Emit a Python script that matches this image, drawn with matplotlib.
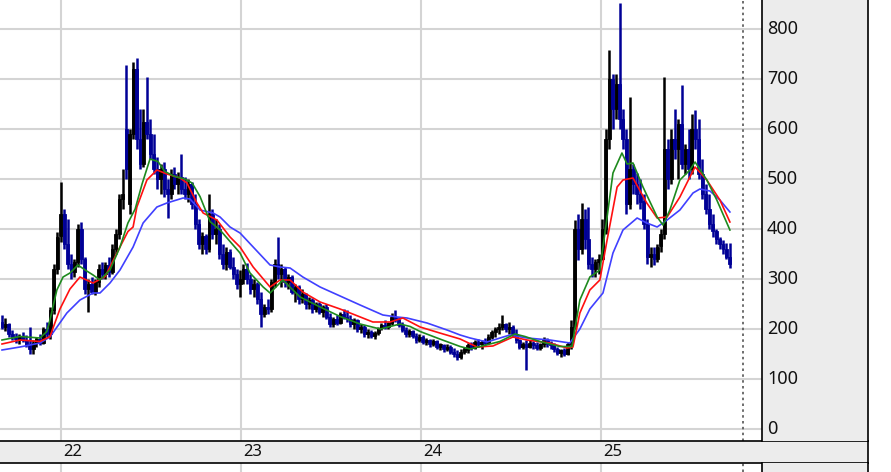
import matplotlib
matplotlib.use("Agg")
import numpy as np
import pandas as pd
import matplotlib.pyplot as plt
import matplotlib.dates as mdates

# ------------------------------------------
# weekly candles (o, h, l, c)
# ------------------------------------------
opens = [215, 205, 210, 190, 185, 180, 186, 178, 170, 160,
         172, 180, 172, 200, 190, 238, 320, 385, 430, 370,
         330, 315, 335, 400, 340, 280, 290, 275, 295, 320,
         310, 328, 315, 360, 390, 460, 600, 450, 590, 720,
         580, 530, 615, 590, 550, 520, 500, 520, 480, 470,
         510, 490, 505, 480, 470, 490, 450, 410, 370, 385,
         360, 430, 390, 400, 350, 330, 355, 325, 310, 290,
         300, 320, 300, 280, 290, 260, 230, 245, 240, 295,
         330, 310, 320, 295, 305, 275, 285, 260, 270, 250,
         258, 240, 250, 235, 245, 225, 210, 220, 212, 230,
         225, 220, 210, 218, 200, 205, 190, 195, 186, 192,
         202, 208, 204, 212, 225, 218, 208, 198, 190, 196,
         186, 178, 185, 174, 178, 170, 176, 165, 168, 160,
         165, 155, 150, 145, 155, 158, 168, 162, 174, 170,
         175, 172, 185, 195, 200, 205, 210, 200, 205, 190,
         178, 165, 170, 165, 172, 168, 162, 170, 178, 170,
         168, 160, 152, 158, 150, 170, 205, 400, 360, 420,
         380, 330, 320, 335, 340, 400, 580, 700, 640, 690,
         620, 580, 450, 520, 490, 470, 455, 410, 345, 350,
         340, 365, 390, 560, 500, 580, 560, 610, 530, 560,
         520, 600, 580, 510, 470, 440, 410, 395, 380, 370,
         360, 345]
highs = [228, 222, 212, 198, 192, 190, 195, 188, 205, 178,
         185, 190, 205, 215, 245, 330, 395, 494, 440, 420,
         350, 340, 410, 415, 345, 300, 305, 300, 330, 335,
         335, 345, 370, 400, 470, 520, 728, 600, 734, 742,
         640, 640, 704, 620, 590, 545, 530, 535, 500, 520,
         525, 515, 550, 505, 500, 495, 470, 420, 395, 390,
         470, 440, 420, 410, 370, 364, 360, 345, 320, 318,
         330, 332, 310, 300, 295, 275, 250, 260, 300, 340,
         384, 330, 325, 310, 308, 290, 288, 280, 272, 265,
         262, 255, 255, 248, 250, 232, 225, 228, 235, 240,
         238, 228, 222, 220, 210, 208, 200, 198, 196, 205,
         212, 218, 215, 232, 238, 225, 215, 205, 200, 198,
         192, 190, 188, 182, 180, 180, 178, 172, 170, 170,
         168, 162, 158, 160, 165, 172, 175, 178, 180, 178,
         182, 190, 198, 205, 212, 228, 212, 215, 208, 200,
         180, 175, 178, 178, 176, 174, 172, 185, 182, 176,
         172, 165, 160, 162, 175, 218, 418, 430, 452, 440,
         444, 345, 340, 350, 420, 600, 758, 710, 710, 852,
         640, 600, 664, 530, 512, 500, 470, 420, 365, 364,
         370, 400, 704, 580, 600, 640, 620, 688, 570, 600,
         630, 638, 620, 540, 490, 470, 430, 400, 385, 378,
         372, 372]
lows = [200, 196, 185, 178, 172, 170, 175, 165, 150, 150,
        165, 168, 170, 185, 180, 230, 310, 375, 360, 320,
        300, 305, 325, 330, 270, 234, 270, 268, 285, 300,
        300, 305, 310, 350, 380, 440, 500, 430, 580, 560,
        520, 525, 580, 540, 510, 480, 470, 464, 422, 460,
        480, 470, 470, 460, 455, 440, 400, 360, 350, 350,
        355, 380, 370, 340, 320, 318, 320, 300, 280, 264,
        290, 290, 270, 265, 250, 204, 225, 230, 235, 285,
        300, 285, 285, 280, 270, 255, 250, 252, 240, 240,
        232, 235, 230, 225, 220, 204, 205, 208, 210, 220,
        215, 205, 200, 195, 192, 185, 182, 182, 180, 188,
        198, 200, 200, 208, 215, 205, 195, 185, 184, 182,
        172, 175, 170, 168, 165, 166, 160, 158, 155, 156,
        150, 145, 138, 140, 150, 152, 158, 160, 165, 160,
        168, 170, 180, 185, 190, 198, 195, 190, 185, 172,
        160, 160, 118, 162, 160, 158, 158, 165, 165, 160,
        155, 148, 144, 146, 148, 160, 200, 338, 350, 360,
        320, 304, 304, 310, 338, 390, 560, 600, 620, 600,
        560, 430, 440, 470, 450, 440, 400, 330, 324, 328,
        335, 355, 380, 480, 490, 540, 500, 520, 510, 500,
        510, 560, 500, 460, 430, 400, 385, 370, 360, 350,
        340, 322]
closes = [205, 210, 190, 185, 180, 186, 178, 170, 160, 172,
          180, 172, 200, 190, 238, 320, 385, 430, 370, 330,
          315, 335, 400, 340, 280, 290, 275, 295, 320, 310,
          328, 315, 360, 390, 460, 470, 520, 590, 720, 580,
          530, 615, 590, 550, 520, 500, 520, 480, 470, 510,
          490, 505, 480, 470, 490, 450, 410, 370, 385, 360,
          430, 390, 400, 350, 330, 355, 325, 310, 290, 300,
          320, 300, 280, 290, 260, 230, 245, 240, 295, 330,
          310, 320, 295, 305, 275, 285, 260, 270, 250, 258,
          240, 250, 235, 245, 225, 210, 220, 212, 230, 225,
          220, 210, 218, 200, 205, 190, 195, 186, 192, 202,
          208, 204, 212, 225, 218, 208, 198, 190, 196, 186,
          178, 185, 174, 178, 170, 176, 165, 168, 160, 165,
          155, 150, 145, 155, 158, 168, 162, 174, 170, 175,
          172, 185, 195, 200, 205, 210, 200, 205, 190, 178,
          165, 170, 165, 172, 168, 162, 170, 178, 170, 168,
          160, 152, 158, 150, 170, 205, 400, 360, 420, 380,
          330, 320, 335, 340, 400, 580, 700, 640, 690, 620,
          580, 450, 520, 490, 470, 455, 410, 345, 350, 340,
          365, 390, 560, 500, 580, 560, 610, 530, 560, 520,
          600, 580, 510, 470, 440, 410, 395, 380, 370, 360,
          345, 330]

# moving averages (week offset, value)
green_w = [0, 5.2, 11.0, 13.0, 13.9, 15.9, 17.7, 19.7, 22.0, 24.1,
           26.4, 28.4, 31.3, 34.2, 36.5, 38.6, 40.6, 42.9, 45.2, 47.2,
           50.1, 53.0, 55.1, 57.4, 60.3, 63.2, 69.0, 71.9, 75.7, 77.7,
           81.4, 86.4, 92.2, 98.0, 103.8, 109.6, 115.4, 118.3, 121.2, 126.9,
           132.8, 135.7, 138.6, 144.3, 148.7, 151.6, 155.9, 161.7, 165.2, 167.5,
           170.4, 173.3, 175.4, 177.1, 179.7, 181.2, 182.9, 185.8, 189.9, 191.6,
           193.6, 196.5, 199.4, 200.9, 204.3, 207.2, 211.0]
green_v = [178, 185, 182, 195, 218, 278, 304, 312, 328, 318,
           308, 298, 318, 364, 412, 440, 490, 540, 535, 515,
           505, 500, 492, 465, 415, 398, 352, 312, 284, 272,
           298, 264, 244, 225, 210, 200, 210, 205, 195, 180,
           165, 160, 165, 175, 190, 185, 175, 165, 165, 258,
           304, 318, 424, 512, 552, 530, 532, 484, 424, 408,
           438, 498, 518, 534, 498, 458, 398]

red_w = [0, 5.2, 11.0, 13.9, 16.8, 19.7, 22.6, 26.4, 29.9, 34.2,
         36.5, 38.0, 39.1, 42.0, 44.9, 47.8, 51.6, 53.6, 56.5, 58.3,
         62.3, 66.1, 69.0, 72.8, 77.7, 80.6, 83.5, 87.2, 92.2, 98.0,
         107.5, 112.5, 116.2, 121.2, 126.9, 132.8, 137.7, 142.3, 148.1, 152.2,
         158.8, 163.8, 165.5, 167.5, 170.4, 173.3, 175.4, 178.3, 180.0, 182.9,
         186.9, 189.9, 192.8, 196.5, 199.4, 200.9, 204.3, 208.1, 211.0]
red_v = [170, 178, 175, 185, 240, 280, 304, 292, 305, 364,
         395, 404, 444, 498, 518, 510, 502, 492, 452, 432,
         418, 384, 364, 324, 284, 298, 298, 274, 254, 240,
         214, 214, 222, 204, 192, 180, 164, 166, 184, 178,
         172, 162, 164, 232, 278, 298, 378, 484, 498, 502,
         452, 422, 424, 464, 504, 524, 498, 458, 414]

blue_w = [0, 5.2, 11.0, 13.9, 18.8, 22.6, 26.4, 28.4, 31.3, 34.2,
          38.0, 40.9, 44.9, 47.8, 52.5, 54.5, 57.4, 61.2, 63.2, 66.1,
          69.0, 72.8, 77.7, 80.6, 83.5, 87.2, 92.2, 98.0, 103.8, 110.4,
          114.5, 117.4, 123.2, 129.0, 132.8, 135.7, 140.6, 147.2, 152.2, 158.8,
          164.6, 167.5, 170.4, 174.2, 177.1, 180.0, 184.1, 186.9, 189.9, 192.8,
          196.5, 200.3, 202.3, 205.2, 208.1, 211.0]
blue_v = [158, 164, 172, 184, 232, 258, 272, 272, 292, 318,
          364, 412, 444, 452, 462, 460, 438, 432, 424, 404,
          392, 364, 328, 324, 322, 304, 284, 266, 248, 228,
          224, 222, 212, 198, 188, 182, 174, 188, 182, 178,
          172, 200, 240, 272, 352, 398, 422, 412, 404, 418,
          438, 472, 480, 476, 458, 434]

year_labels = ["22", "23", "24", "25"]
y_labels = [0, 100, 200, 300, 400, 500, 600, 700, 800]

UP = "#000000"
DOWN = "#000096"
GRID = "#d4d4d4"
PANEL = "#ececec"

# ------------------------------------------
# layout in pixels
# ------------------------------------------
W, H = 891, 472
fig = plt.figure(figsize=(W / 100, H / 100), dpi=100)
plt.rcParams["font.family"] = ["Noto Sans", "DejaVu Sans"]


def px_axes(x0, y0, x1, y1):
    return fig.add_axes([x0 / W, 1 - y1 / H, (x1 - x0) / W, (y1 - y0) / H])


start = mdates.date2num(pd.Timestamp("2021-09-03"))


def wk(w):
    return start + 7 * np.asarray(w, dtype=float)


xlim = (wk(-0.58), wk(220.3))
ylim = (-24, 858)
year_x = [mdates.date2num(pd.Timestamp(f"20{y}-01-01")) for y in year_labels]
dash_x = wk(214.8)

ax = px_axes(0, 0, 762, 441)
ax_low = px_axes(0, 463, 762, 472)
strip = px_axes(0, 441, 868, 463)
ax_r = px_axes(762, 0, 868, 441)
ax_lr = px_axes(762, 463, 868, 472)

# ------------------------------------------
# main price panel
# ------------------------------------------
o = np.array(opens, float)
hi = np.array(highs, float)
lo = np.array(lows, float)
c = np.array(closes, float)
x = wk(np.arange(len(c)))
cols = np.where(c >= o, UP, DOWN)
body_lo = np.minimum(o, c)
body_h = np.maximum(np.abs(c - o), 5)

ax.vlines(x, lo, hi, colors=cols, lw=1.8, zorder=2)
ax.bar(x, body_h, bottom=body_lo, width=6.0, color=cols,
       edgecolor=cols, linewidth=0.6, zorder=2)

ax.plot(wk(blue_w), blue_v, color="#4040ff", lw=1.2, zorder=3)
ax.plot(wk(red_w), red_v, color="#ff1010", lw=1.2, zorder=4)
ax.plot(wk(green_w), green_v, color="#1e8a1e", lw=1.2, zorder=5)

for a in (ax, ax_low):
    a.set_xlim(xlim)
    a.set_xticks(year_x)
    a.grid(True, axis="x", color=GRID, lw=1.5, zorder=0)
    a.axvline(dash_x, color="#555555", lw=1.2, ls=(0, (1.5, 2.0)), zorder=6)
    a.tick_params(length=0, labelbottom=False, labelleft=False)
    for s in a.spines.values():
        s.set_visible(False)

ax.set_ylim(ylim)
ax.set_yticks(y_labels)
ax.grid(True, axis="y", color=GRID, lw=1.5, zorder=0)
ax_low.set_yticks([])

# ------------------------------------------
# right value panel
# ------------------------------------------
for a in (ax_r, ax_lr):
    a.set_facecolor(PANEL)
    a.set_xticks([])
    a.set_yticks([])
    a.spines["top"].set_visible(False)
    a.spines["bottom"].set_visible(False)
    for side in ("left", "right"):
        a.spines[side].set_linewidth(1.2)

ax_r.set_xlim(0, 106)
ax_r.set_ylim(ylim)
for v in y_labels:
    ax_r.text(5, v, str(v), va="center", ha="left", fontsize=13, color="#111111")

# ------------------------------------------
# date strip
# ------------------------------------------
strip.set_facecolor(PANEL)
strip.set_xlim(wk(-0.58), wk(-0.58) + (xlim[1] - xlim[0]) * 868 / 762)
strip.set_ylim(0, 1)
strip.set_xticks([])
strip.set_yticks([])
strip.spines["left"].set_visible(False)
for side in ("top", "bottom", "right"):
    strip.spines[side].set_linewidth(1.2)
for xv, lab in zip(year_x, year_labels):
    strip.annotate(lab, xy=(xv, 0.5), xycoords="data",
                   xytext=(1.5, 0), textcoords="offset points",
                   va="center", ha="left", fontsize=12, color="#111111")

fig.savefig("out.png", dpi=100)
